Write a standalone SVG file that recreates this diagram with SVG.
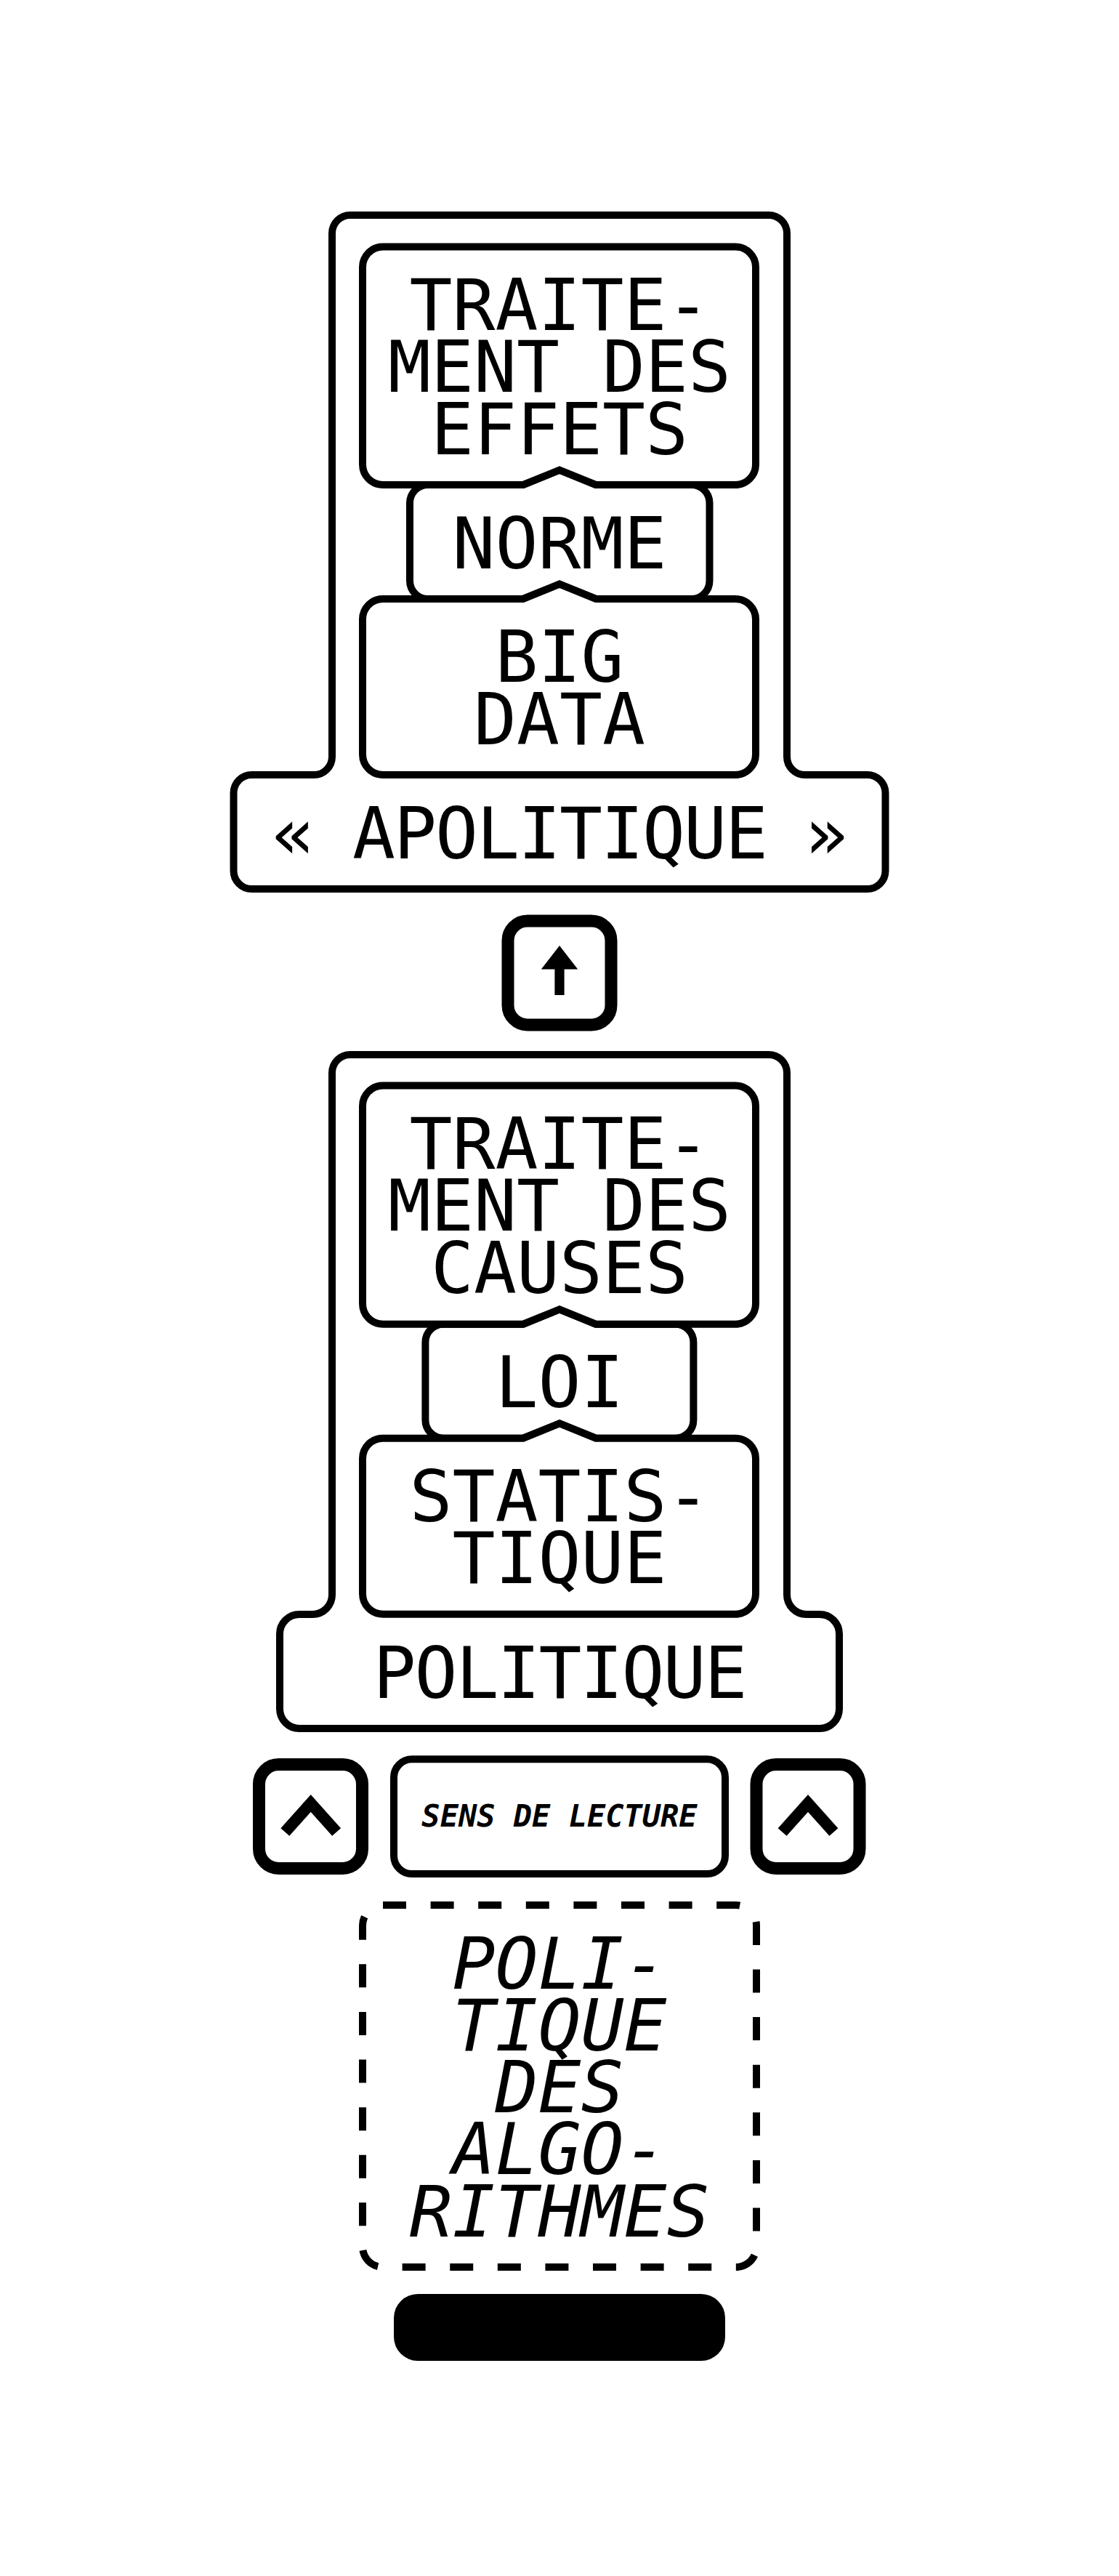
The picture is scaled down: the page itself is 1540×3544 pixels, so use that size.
<svg xmlns="http://www.w3.org/2000/svg" width="1540" height="3544" viewBox="0 0 1540 3544">
<style>
.ln{fill:#fff;stroke:#000;stroke-width:10;stroke-linejoin:miter;stroke-miterlimit:10}
.thk{fill:#fff;stroke:#000;stroke-width:17}
.dash{fill:#fff;stroke:#000;stroke-width:10;stroke-dasharray:32 33.6}
.t{font-family:"DejaVu Sans Mono","Liberation Mono",monospace;font-size:98px;text-anchor:middle;fill:#000}
.ti{font-style:italic}
.nar{letter-spacing:-2px}
.sm{font-family:"DejaVu Sans Mono","Liberation Mono",monospace;font-size:42px;font-weight:bold;font-style:italic;text-anchor:middle;fill:#000}
.chev{fill:none;stroke:#000;stroke-width:16;stroke-linejoin:miter;stroke-linecap:butt}
</style>
<rect width="1540" height="3544" fill="#fff"/>

<g id="connectors"></g>

<g id="apolitique">
<path class="ln" d="M482 296 H1058 A25 25 0 0 1 1083 321 V1041 A25 25 0 0 0 1108 1066 H1193.5 A25 25 0 0 1 1218.5 1091 V1198 A25 25 0 0 1 1193.5 1223 H346.5 A25 25 0 0 1 321.5 1198 V1091 A25 25 0 0 1 346.5 1066 H432 A25 25 0 0 0 457 1041 V321 A25 25 0 0 1 482 296 Z"/>
<text class="t" x="403.4" y="1180.7">«</text>
<text class="t nar" x="770" y="1180.7">APOLITIQUE</text>
<text class="t" x="1137.2" y="1180.7">»</text>
</g>

<g id="norme">
<path class="ln" d="M589 667 H720 L770 646.7 L820 667 H951.5 A25 25 0 0 1 976.5 692 V799 A25 25 0 0 1 951.5 824 H820 L770 803.7 L720 824 H589 A25 25 0 0 1 564 799 V692 A25 25 0 0 1 589 667 Z"/>
<text class="t" x="770" y="781.7">NORME</text>
</g>

<g id="traitement-effets">
<path class="ln" d="M527 339.5 H1012 A28 28 0 0 1 1040 367.5 V639 A28 28 0 0 1 1012 667 H820 L770 646.7 L720 667 H527 A28 28 0 0 1 499 639 V367.5 A28 28 0 0 1 527 339.5 Z"/>
<text class="t" x="770" y="454">TRAITE-</text>
<text class="t" x="770" y="539.3">MENT DES</text>
<text class="t" x="770" y="624.6">EFFETS</text>
</g>

<g id="big-data">
<path class="ln" d="M527 824 H720 L770 803.7 L820 824 H1012 A28 28 0 0 1 1040 852 V1038 A28 28 0 0 1 1012 1066 H527 A28 28 0 0 1 499 1038 V852 A28 28 0 0 1 527 824 Z"/>
<text class="t" x="770" y="938.3">BIG</text>
<text class="t" x="770" y="1024">DATA</text>
</g>

<g id="arrow-up">
<rect class="thk" x="699" y="1267" width="142" height="143" rx="27" ry="27"/>
<path d="M770 1301 L795.2 1333.5 H776.6 V1369 H763.4 V1333.5 H744.8 Z" fill="#000"/>
</g>

<g id="politique">
<path class="ln" d="M482 1451 H1058 A25 25 0 0 1 1083 1476 V2194 A27 27 0 0 0 1110 2221 H1128 A27 27 0 0 1 1155 2248 V2351 A27 27 0 0 1 1128 2378 H412 A27 27 0 0 1 385 2351 V2248 A27 27 0 0 1 412 2221 H430 A27 27 0 0 0 457 2194 V1476 A25 25 0 0 1 482 1451 Z"/>
<text class="t nar" x="770" y="2335.7">POLITIQUE</text>
</g>

<g id="loi">
<path class="ln" d="M610.4 1821.7 H720 L770 1801.4 L820 1821.7 H929.4 A25 25 0 0 1 954.4 1846.7 V1953.7 A25 25 0 0 1 929.4 1978.7 H820 L770 1958.4 L720 1978.7 H610.4 A25 25 0 0 1 585.4 1953.7 V1846.7 A25 25 0 0 1 610.4 1821.7 Z"/>
<text class="t" x="770" y="1936.4">LOI</text>
</g>

<g id="traitement-causes">
<path class="ln" d="M527 1493.6 H1012 A28 28 0 0 1 1040 1521.6 V1793.7 A28 28 0 0 1 1012 1821.7 H820 L770 1801.4 L720 1821.7 H527 A28 28 0 0 1 499 1793.7 V1521.6 A28 28 0 0 1 527 1493.6 Z"/>
<text class="t" x="770" y="1607.5">TRAITE-</text>
<text class="t" x="770" y="1693.2">MENT DES</text>
<text class="t" x="770" y="1778.9">CAUSES</text>
</g>

<g id="statistique">
<path class="ln" d="M527 1978.7 H720 L770 1958.4 L820 1978.7 H1012 A28 28 0 0 1 1040 2006.7 V2192.7 A28 28 0 0 1 1012 2220.7 H527 A28 28 0 0 1 499 2192.7 V2006.7 A28 28 0 0 1 527 1978.7 Z"/>
<text class="t" x="770" y="2092.7">STATIS-</text>
<text class="t" x="770" y="2178.3">TIQUE</text>
</g>

<g id="chevron-left">
<rect class="thk" x="356.5" y="2427.5" width="142" height="143" rx="27" ry="27"/>
<polyline class="chev" points="392.3,2520.5 427.7,2481 463.1,2520.5"/>
</g>

<g id="sens-de-lecture">
<rect class="ln" x="542" y="2420.3" width="456" height="157.7" rx="25" ry="25"/>
<text class="sm" x="770" y="2513.3">SENS DE LECTURE</text>
</g>

<g id="chevron-right">
<rect class="thk" x="1041" y="2427.5" width="142" height="143" rx="27" ry="27"/>
<polyline class="chev" points="1076.6,2520.5 1112,2481 1147.4,2520.5"/>
</g>

<g id="politique-des-algorithmes">
<rect class="dash" x="499" y="2621" width="542" height="498" rx="28" ry="28"/>
<text class="t ti" x="770" y="2735.5">POLI-</text>
<text class="t ti" x="770" y="2820.8">TIQUE</text>
<text class="t ti" x="770" y="2906.1">DES</text>
<text class="t ti" x="770" y="2991.4">ALGO-</text>
<text class="t ti" x="770" y="3076.9">RITHMES</text>
</g>

<g id="bar">
<rect x="542" y="3156" width="456" height="92" rx="33" ry="33" fill="#000"/>
</g>
</svg>
